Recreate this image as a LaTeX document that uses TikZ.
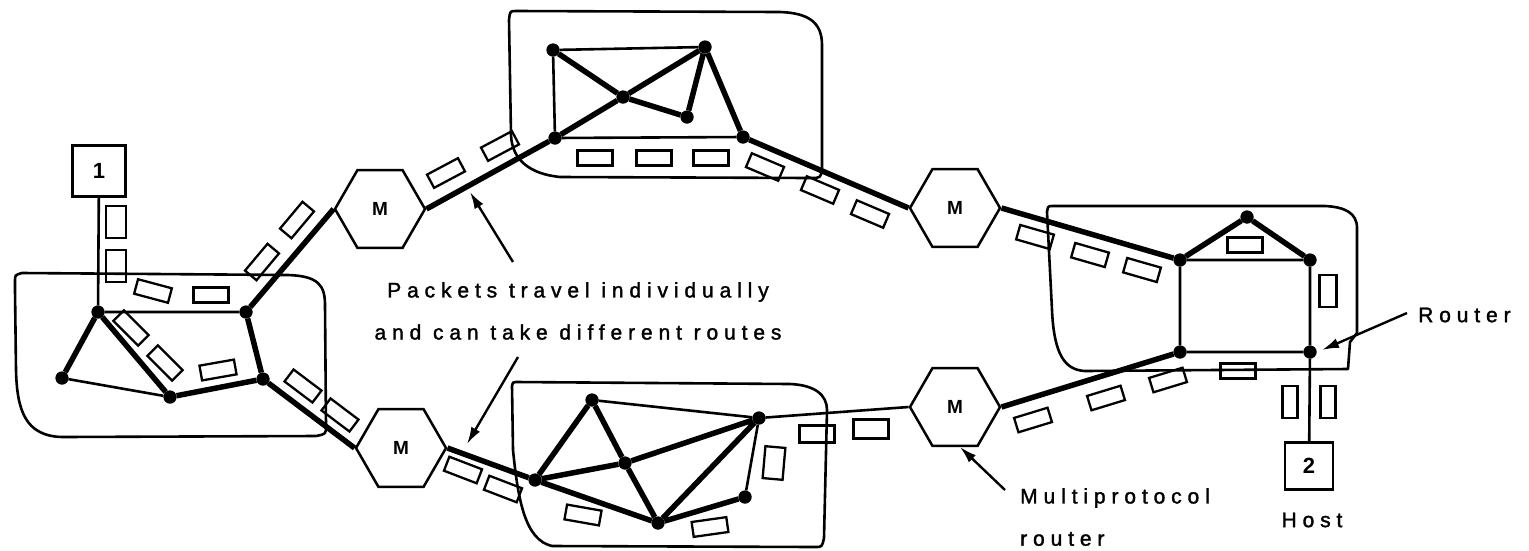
\documentclass[tikz,border=0pt]{standalone}
\usepackage{fontspec}
\setmainfont{Liberation Sans}
\newfontfamily\lblfont[LetterSpace=28,FakeBold=1.6]{Liberation Sans}
\usetikzlibrary{shapes.geometric,arrows.meta}
\tikzset{
  router/.style={circle,fill=black,inner sep=0pt,minimum size=13pt},
  thickedge/.style={line width=5.5pt},
  thinedge/.style={line width=2.6pt},
  cloudline/.style={line width=2.6pt,line join=round},
  pkt/.style={draw,line width=2.3pt,inner sep=0pt,minimum width=35pt,minimum height=15pt},
  vpkt/.style={draw,line width=2.3pt,inner sep=0pt,minimum width=17pt,minimum height=32pt},
  mpr/.style={regular polygon,regular polygon sides=6,draw,line width=2.5pt,fill=white,
              minimum size=90pt,inner sep=0pt,font=\bfseries\fontsize{19}{19}\selectfont},
  hostbox/.style={draw,line width=2.6pt,fill=white,inner sep=0pt,font=\bfseries\fontsize{22}{22}\selectfont},
  lbl/.style={font=\lblfont\fontsize{21}{25}\selectfont,inner sep=0pt},
  pointer/.style={line width=2.4pt,-{Latex[length=17pt,width=10pt]}},
}
\begin{document}
\begin{tikzpicture}[x=1pt,y=-1pt]
\useasboundingbox (0,0) rectangle (1529,550);

% ---- network outlines ----
\draw[cloudline] (15,290) -- (15,281) .. controls (15,275) .. (22,273) -- (288,275)
  .. controls (318,276) and (325,285) .. (325,305) -- (326,426) .. controls (326,434) .. (316,436)
  -- (62,437) .. controls (25,436) and (17,410) .. (16,370) -- cycle;
\draw[cloudline] (509,20) -- (511,135) .. controls (512,160) and (530,174) .. (560,177)
  -- (810,178) .. controls (821,178) .. (822,168) -- (822,45)
  .. controls (822,22) and (808,13) .. (780,12) -- (516,11) .. controls (510,11) .. cycle;
\draw[cloudline] (1047,212) -- (1052,310) .. controls (1054,355) and (1065,370) .. (1085,371)
  -- (1348,369) -- (1350,342) -- (1357,333) -- (1357,228)
  .. controls (1357,213) and (1345,207) .. (1325,206) -- (1053,206) .. controls (1048,206) .. cycle;
\draw[cloudline] (512,386) -- (513,450) .. controls (518,500) and (525,540) .. (552,546)
  -- (815,547) .. controls (822,547) .. (824,538) -- (827,410)
  .. controls (827,395) and (815,385) .. (790,384) -- (516,382) .. controls (513,382) .. cycle;

% ---- hosts and multiprotocol routers ----
\node[hostbox,minimum width=53pt,minimum height=51pt] (H1) at (99,171) {1};
\node[hostbox,minimum width=48pt,minimum height=47pt] (H2) at (1309,466) {2};
\node[mpr] (M1) at (380,209) {M};
\node[mpr] (M2) at (401,448) {M};
\node[mpr] (M3) at (955,208) {M};
\node[mpr] (M4) at (955,407) {M};

% ---- routers ----
\foreach \n/\x/\y in {L1/98/312, L2/62/378, L3/170/397, L4/246/312, L5/263/379,
  T1/555/138, T2/553/50, T3/705/47, T4/623/97, T5/687/117, T6/743/137,
  R1/1180/260, R2/1247/217, R3/1310/260, R4/1180/352, R5/1310/352,
  S1/592/400, S2/535/480, S3/625/463, S4/759/418, S5/658/523, S6/745/497}
  \node[router] (\n) at (\x,\y) {};

% ---- links ----
\draw[thinedge] (H1) -- (L1);
\draw[thinedge] (L2) -- (L3) (L1) -- (L4);
\draw[thickedge] (L1) -- (L2) (L1) -- (L3) (L4) -- (L5) (L3) -- (L5)
  (L4) -- (M1.west) (L5) -- (M2.west);

\draw[thinedge] (T2) -- (T3) (T2) -- (T1) (T1) -- (T6);
\draw[thickedge] (M1.east) -- (T1) (T1) -- (T4) (T4) -- (T3) (T2) -- (T4)
  (T4) -- (T5) (T5) -- (T3) (T3) -- (T6) (T6) -- (M3.west);

\draw[thinedge] (R1) -- (R3) (R1) -- (R4) (R3) -- (R5) (R4) -- (R5) (R5) -- (H2);
\draw[thickedge] (M3.east) -- (R1) (R1) -- (R2) (R2) -- (R3) (M4.east) -- (R4);

\draw[thinedge] (S1) -- (S4) (S6) -- (S4) (S4) -- (M4.west);
\draw[thickedge] (M2.east) -- (S2) (S2) -- (S1) (S1) -- (S3) (S3) -- (S4) (S2) -- (S3)
  (S3) -- (S5) (S2) -- (S5) (S5) -- (S4) (S5) -- (S6);

% redraw the dots over the links
\foreach \n in {L1,L2,L3,L4,L5,T1,T2,T3,T4,T5,T6,R1,R2,R3,R4,R5,S1,S2,S3,S4,S5,S6}
  \fill (\n) circle (6.5pt);

% ---- packets ----
\node[vpkt,minimum width=20pt] (p1) at (116,222) {};
\node[vpkt,minimum width=20pt] (p2) at (116,266) {};
\node[pkt,rotate=-15] (p3) at (153,291) {};
\node[pkt] (p4) at (211,295) {};
\node[pkt,rotate=-45] (p5) at (131,328) {};
\node[pkt,rotate=-45] (p6) at (165,363) {};
\node[pkt,rotate=10] (p7) at (218,370) {};
\node[pkt,rotate=-37] (p8) at (303,386) {};
\node[pkt,rotate=-37] (p9) at (340,415) {};
\node[pkt,rotate=50] (p10) at (262,262) {};
\node[pkt,rotate=50] (p11) at (297,220) {};
\node[pkt,rotate=28] (p12) at (446,173) {};
\node[pkt,rotate=28] (p13) at (500,146) {};
\node[pkt] (p14) at (595,158) {};
\node[pkt] (p15) at (654,158) {};
\node[pkt] (p16) at (711,158) {};
\node[pkt,rotate=-23] (p17) at (765,167) {};
\node[pkt,rotate=-23] (p18) at (820,190) {};
\node[pkt,rotate=-23] (p19) at (870,214) {};
\node[pkt,rotate=-16] (p20) at (1035,237) {};
\node[pkt,rotate=-16] (p21) at (1090,255) {};
\node[pkt,rotate=-16] (p22) at (1142,270) {};
\node[pkt] (p23) at (1245,245) {};
\node[vpkt] (p24) at (1328,291) {};
\node[pkt] (p25) at (1238,371) {};
\node[vpkt,minimum width=15pt] (p26) at (1290,402) {};
\node[vpkt,minimum width=15pt] (p27) at (1328,402) {};
\node[pkt,rotate=17] (p28) at (1168,380) {};
\node[pkt,rotate=17] (p29) at (1106,398) {};
\node[pkt,rotate=17] (p30) at (1033,420) {};
\node[pkt,rotate=-21] (p31) at (463,470) {};
\node[pkt,rotate=-21] (p32) at (503,489) {};
\node[pkt,rotate=-10] (p33) at (583,515) {};
\node[pkt,rotate=8] (p34) at (710,527) {};
\node[vpkt,minimum width=20pt,rotate=-5] (p35) at (774,463) {};
\node[pkt,minimum height=17pt] (p36) at (817,434) {};
\node[pkt,minimum height=19pt] (p37) at (871,429) {};

% ---- labels and pointers ----
\node[lbl] (lblA) at (578,292) {Packets travel individually};
\node[lbl] (lblB) at (578,332) {and can take different routes};
\node[lbl,anchor=west] (lblR) at (1418,315) {Router};
\node[lbl,anchor=west] (lblM) at (1020,498) {Multiprotocol};
\node[lbl,anchor=west] (lblM2) at (1020,539) {router};
\node[lbl] (lblH) at (1312,520) {Host};

\coordinate (pa0) at (513,262);
\coordinate (pa1) at (470,192);
\coordinate (pb0) at (518,357);
\coordinate (pb1) at (467,444);
\coordinate (pr0) at (1407,313);
\coordinate (pr1) at (1322,350);
\coordinate (pm0) at (1005,490);
\coordinate (pm1) at (960,447);
\draw[pointer] (pa0) -- (pa1);
\draw[pointer] (pb0) -- (pb1);
\draw[pointer] (pr0) -- (pr1);
\draw[pointer] (pm0) -- (pm1);
\end{tikzpicture}
\end{document}
